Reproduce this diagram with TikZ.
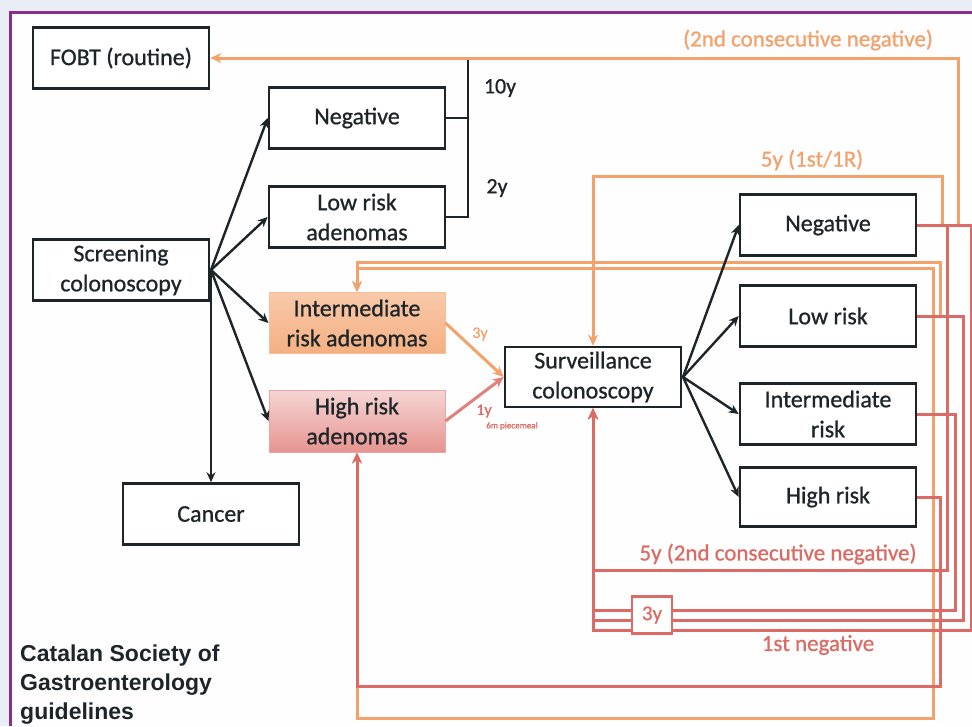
\documentclass[tikz,border=0pt]{standalone}
\usepackage{fontspec}
\setmainfont{Carlito}[FakeBold=0.8]
\newfontfamily\arialb{Liberation Sans}
\usetikzlibrary{arrows.meta}
\definecolor{orl}{HTML}{F3A26C}
\definecolor{rdl}{HTML}{DC6B65}
\definecolor{ink}{HTML}{1E2529}
\definecolor{purp}{HTML}{8B2D8C}
\definecolor{bgc}{HTML}{E8EDF6}
\begin{document}
\begin{tikzpicture}[x=1pt,y=-1pt,
  box/.style={draw=ink, line width=2.6pt, minimum width=176pt, minimum height=61pt,
    inner sep=2pt, align=center, font=\fontsize{24}{30}\selectfont, text=ink, fill=white},
  arr/.style={draw=ink, line width=2.4pt, -{Stealth[length=10pt,width=9pt]}},
  ol/.style={draw=orl, line width=3pt},
  rl/.style={draw=rdl, line width=3pt},
  otip/.style={-{Stealth[length=11pt,width=10pt]}},
  lab/.style={font=\fontsize{23}{28}\selectfont}]
\useasboundingbox (0,0) rectangle (972,726);
\fill[bgc] (0,0) rectangle (972,726);
\fill[white!97!bgc] (10,12) rectangle (972,726);
\draw[purp, line width=3pt] (10,726) -- (10,12) -- (972,12);

% nodes
\node[box] (fobt) at (121,58) {FOBT (routine)};
\node[box] (neg1) at (357,118) {Negative};
\node[box] (low1) at (357,217) {Low risk\\adenomas};
\node[box] (screen) at (121,270) {Screening\\colonoscopy};
\node[box, draw=orl!70!white, line width=1pt, top color=orl!58!white, bottom color=orl!85!white] (inter1) at (357,323) {Intermediate\\risk adenomas};
\node[box, draw=rdl!60!white, line width=1pt, top color=rdl!28!white, bottom color=rdl!72!white, minimum height=62pt] (high1) at (357,421) {High risk\\adenomas};
\node[box] (cancer) at (211,514) {Cancer};
\node[box, minimum height=60pt] (surv) at (593,377) {Surveillance\\colonoscopy};
\node[box] (neg2) at (828,225) {Negative};
\node[box] (low2) at (828,316) {Low risk};
\node[box] (inter2) at (828,414) {Intermediate\\risk};
\node[box, minimum height=59pt] (high2) at (828,497) {High risk};

% routing coordinates
\coordinate (c1) at (958,58);
\coordinate (c2) at (942,176);
\coordinate (c3) at (947,570);
\coordinate (c4) at (971,630);
\coordinate (c5) at (963,620);
\coordinate (c6) at (955,610);
\coordinate (c7) at (940,262);
\coordinate (c8) at (933,268);
\coordinate (c9) at (933,718);
\coordinate (c10) at (940,686);
\coordinate (br) at (468,60);
\coordinate (f1) at (211,270);
\coordinate (f2) at (683,377);

% orange / red feedback lines
\draw[ol,otip] (neg2.east) -| (c1) -- (fobt.east);
\draw[ol,otip] (neg2.east) -| (c2) -| (surv.north);
\draw[ol,otip] (low2.east) -| (c7) -| (inter1.north);
\draw[ol,otip] (inter2.east) -| (c8) -| (inter1.north);
\draw[ol,otip] (inter2.east) -| (c9) -| (high1.south);
\draw[rl,otip] (high2.east) -| (c10) -| (high1.south);
\draw[rl,otip] (neg2.east) -| (c3) -| (surv.south);
\draw[rl,otip] (neg2.east) -| (c4) -| (surv.south);
\draw[rl,otip] (low2.east) -| (c5) -| (surv.south);
\draw[rl,otip] (inter2.east) -| (c6) -| (surv.south);
\node[draw=rdl, line width=2.6pt, fill=white, minimum width=40pt, minimum height=37pt,
  text=rdl, font=\fontsize{21}{24}\selectfont] (y3) at (652,615) {3y};

\draw[ol,otip] (inter1.east) -- (surv.west);
\draw[draw=rdl!85!white, line width=3pt, otip] (high1.east) -- (surv.west);

% black connectors
\draw[draw=ink, line width=2.4pt] (low1.east) -| (br);
\draw[draw=ink, line width=2.4pt] (neg1.east) -- (neg1.east -| br);
\draw[arr] (f1) -- (neg1.west);
\draw[arr] (f1) -- (low1.west);
\draw[arr] (f1) -- (inter1.west);
\draw[arr] (f1) -- (high1.west);
\draw[arr] (f1) -- (cancer.north);
\draw[arr] (f2) -- (neg2.west);
\draw[arr] (f2) -- (low2.west);
\draw[arr] (f2) -- (inter2.west);
\draw[arr] (f2) -- (high2.west);

% labels
\node[font=\fontsize{22}{26}\selectfont, text=ink] (t10) at (500,88) {10y};
\node[font=\fontsize{22}{26}\selectfont, text=ink] (t2) at (497,188) {2y};
\node[lab, text=orl] (l2nd) at (808,40) {(2nd consecutive negative)};
\node[lab, text=orl] (l5y1) at (812,160) {5y (1st/1R)};
\node[lab, text=rdl] (l5y2) at (778,554) {5y (2nd consecutive negative)};
\node[lab, text=rdl] (l1st) at (818,645) {1st negative};
\node[font=\fontsize{16}{18}\selectfont, text=orl] (l3y) at (480,334) {3y};
\node[font=\fontsize{16}{18}\selectfont, text=rdl] (l1y) at (484,411) {1y};
\node[font=\fontsize{9}{10}\selectfont, text=rdl] (l6m) at (512,426) {6m piecemeal};
\node[anchor=north west, align=left, inner sep=0, text=ink,
  font=\arialb\bfseries\fontsize{23}{29}\selectfont] (title) at (20,645)
  {Catalan Society of\\Gastroenterology\\guidelines};
\end{tikzpicture}
\end{document}
